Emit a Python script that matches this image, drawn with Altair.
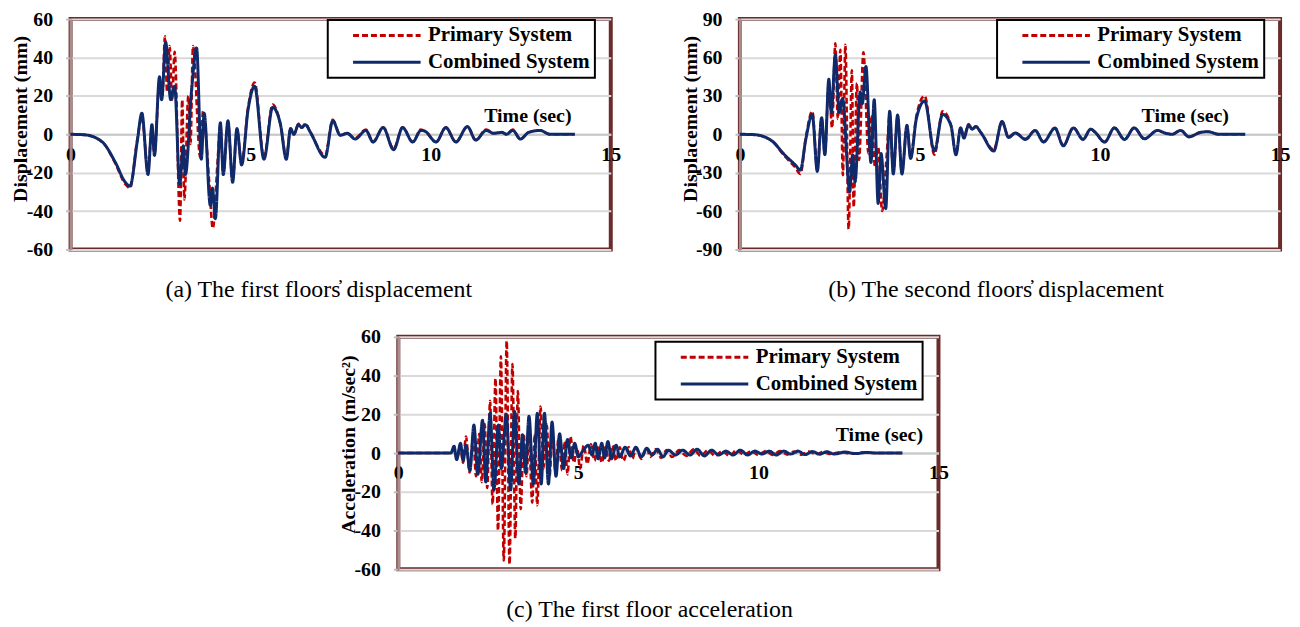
import altair as alt
import pandas as pd

FONT = "Liberation Serif"
MAROON = "#6B2B2B"
GRID = "#D9D9D9"
RED = "#C00000"
BLUE = "#0E2A6B"
SERIES = ["Primary System", "Combined System"]

# ---------------- (a) first floor displacement, mm : (time s, value) ----------------
a_primary = [(0, 0), (0.4, -0.3), (0.88, -4), (1.24, -15), (1.52, -26), (1.65, -28), (1.85, -3), (1.98, 9),
             (2.15, -19), (2.26, 4), (2.33, -10), (2.47, 28), (2.55, 20), (2.62, 51), (2.68, 22), (2.75, 46),
             (2.82, 18), (2.89, 43), (3.04, -45), (3.10, 18), (3.16, -34), (3.27, 20), (3.33, -5), (3.40, 46),
             (3.60, -12), (3.68, 12), (3.85, -25), (3.95, -49), (4.08, -15), (4.16, 5), (4.24, -20), (4.37, 6),
             (4.50, -24), (4.62, 2), (4.75, -15), (4.93, 14), (5.11, 27), (5.37, -12), (5.61, 15.5), (5.83, 5),
             (5.99, -12), (6.11, 3), (6.20, 0), (6.33, 5.5), (6.42, 3.5), (6.52, 5.5), (6.66, 1), (7.07, -11),
             (7.28, 7.5), (7.49, -0.5), (7.68, 0.5), (7.90, -2), (8.20, 2.5), (8.40, -4), (8.68, 3.5), (8.97, -7.5),
             (9.22, 3.5), (9.50, -4), (9.73, 2.5), (9.85, 1.5), (10.15, -4), (10.42, 3.5), (10.70, -4), (11.02, 4),
             (11.25, -3), (11.54, 2.5), (11.75, 0.5), (11.98, 1), (12.10, 0), (12.28, 2.5), (12.49, -2.5),
             (12.72, 1), (13.04, 2), (13.31, 0), (14.0, 0)]
a_combined = [(0, 0), (0.4, -0.3), (0.88, -4), (1.24, -14.5), (1.52, -25), (1.65, -27), (1.85, -4), (1.98, 11),
              (2.15, -21), (2.26, 5), (2.33, -11), (2.47, 30), (2.53, 18), (2.64, 48), (2.78, 18), (2.89, 25),
              (3.03, -26), (3.13, -6), (3.19, -21), (3.36, 23), (3.50, 45), (3.63, -13), (3.71, 11), (3.88, -37),
              (3.94, -28), (4.02, -44), (4.16, 6), (4.24, -21), (4.37, 7), (4.50, -25), (4.62, 3), (4.75, -16),
              (4.93, 13), (5.11, 25), (5.37, -13), (5.61, 14), (5.83, 5), (5.99, -13), (6.11, 3), (6.20, 0),
              (6.33, 5), (6.42, 3.5), (6.52, 5), (6.66, 1), (7.07, -12), (7.28, 7), (7.49, -0.5), (7.68, 0.5),
              (7.90, -2.5), (8.20, 2), (8.40, -4), (8.68, 3.5), (8.97, -8), (9.22, 3.5), (9.50, -4), (9.73, 2),
              (9.85, 1.5), (10.15, -4), (10.42, 3.5), (10.70, -4), (11.02, 4), (11.25, -3), (11.54, 2),
              (11.75, 0.5), (11.98, 1), (12.10, 0), (12.28, 2), (12.49, -2.5), (12.72, 1), (13.04, 2),
              (13.31, 0), (14.0, 0)]

# ---------------- (b) second floor displacement, mm ----------------
b_primary = [(0, 0), (0.4, -0.3), (0.88, -5), (1.24, -17), (1.54, -26), (1.68, -31), (1.83, -3), (2.01, 18),
             (2.15, -27), (2.27, 12), (2.36, -15), (2.47, 40), (2.56, 5), (2.65, 71), (2.72, 12), (2.79, 66),
             (2.86, -32), (2.93, 70), (3.02, -74), (3.11, 50), (3.16, -57), (3.25, 40), (3.31, -20), (3.43, 64),
             (3.57, -15), (3.66, 15), (3.75, -25), (3.84, -10), (3.95, -60), (4.08, -15), (4.16, 15), (4.26, -30),
             (4.38, 14), (4.50, -30), (4.64, 6), (4.74, -18), (4.90, 14), (5.13, 30), (5.40, -16), (5.63, 18),
             (5.86, 7), (6.00, -15), (6.13, 5), (6.22, -2), (6.35, 8), (6.45, 4), (6.55, 6), (6.70, 1),
             (7.05, -12), (7.28, 10), (7.46, -2), (7.65, 1), (7.93, -3.5), (8.20, 3), (8.43, -6), (8.75, 5),
             (8.98, -8.5), (9.26, 5), (9.53, -4), (9.74, 4), (9.85, 2), (10.13, -6), (10.40, 5), (10.68, -4),
             (10.95, 5), (11.23, -3.5), (11.60, 3), (11.80, 1), (12.0, 0), (12.24, 3), (12.47, -2),
             (12.79, 1.5), (13.0, 2), (13.3, 0), (14.03, 0)]
b_combined = [(0, 0), (0.4, -0.3), (0.88, -5), (1.24, -16), (1.54, -24), (1.68, -28), (1.83, -4), (2.01, 15.5),
              (2.15, -29), (2.27, 13), (2.36, -16), (2.47, 43), (2.54, 17), (2.65, 62), (2.76, 17), (2.85, 28),
              (3.05, -45), (3.13, -16), (3.20, -37), (3.34, 33), (3.40, 24), (3.50, 53), (3.64, -22), (3.73, 27),
              (3.84, -54), (3.92, -15), (4.05, -58), (4.16, 18), (4.26, -31), (4.38, 15), (4.50, -31), (4.64, 7),
              (4.74, -19), (4.90, 12), (5.13, 26), (5.40, -13), (5.63, 15.5), (5.86, 7), (6.00, -16), (6.13, 5),
              (6.22, -3), (6.35, 7), (6.45, 4), (6.55, 6), (6.70, 1), (7.05, -13), (7.28, 10), (7.46, -2.5),
              (7.65, 1), (7.93, -4), (8.20, 3), (8.43, -6), (8.75, 4.7), (8.98, -9), (9.26, 5), (9.53, -4),
              (9.74, 4), (9.85, 2), (10.13, -6), (10.40, 5), (10.68, -4), (10.95, 5), (11.23, -3.5), (11.60, 3),
              (11.80, 1), (12.0, 0), (12.24, 3), (12.47, -2), (12.79, 1.5), (13.0, 2), (13.3, 0), (14.03, 0)]

# ---------------- (c) first floor acceleration, m/sec^2 ----------------
c_primary = [(0, 0), (1.46, 0), (1.55, 2), (1.63, -3), (1.72, 4), (1.80, -5), (1.88, 8.5), (1.98, -10),
             (2.08, 8), (2.16, -12), (2.25, 10), (2.32, -15), (2.40, 15), (2.47, -18), (2.55, 27), (2.62, -26.5),
             (2.70, 38.5), (2.77, -40), (2.85, 50), (2.93, -55.5), (3.01, 58), (3.09, -57.5), (3.17, 46),
             (3.25, -44), (3.32, 32), (3.40, -29), (3.48, 10), (3.56, -12), (3.63, 8), (3.72, -25.6), (3.79, 10),
             (3.86, -27), (3.95, 24), (4.03, -8), (4.12, 15), (4.20, -12), (4.28, 10), (4.37, -10), (4.45, 8),
             (4.55, -9), (4.62, 6), (4.70, -11), (4.78, 8.6), (4.88, -5), (4.96, 3), (5.05, -8), (5.15, 4),
             (5.25, -5.6), (5.35, 4.5), (5.45, -4), (5.55, 4), (5.65, -5), (5.75, 3), (5.85, -4), (5.95, 4),
             (6.05, -4), (6.15, 3), (6.25, -4), (6.40, 3), (6.50, -3), (6.60, 2.5), (6.75, -3), (6.90, 2.5),
             (7.00, -2), (7.15, 2), (7.30, -2.5), (7.45, 1.5), (7.60, -2), (7.80, 1.5), (8.00, -1.5), (8.20, 2),
             (8.40, -1.5), (8.60, 1.5), (8.80, -1.5), (9.00, 1), (9.20, -1.5), (9.40, 1.5), (9.60, -1),
             (9.80, 1), (10.0, -1), (10.2, 1), (10.4, -1), (10.6, 1), (10.8, -0.8), (11.0, 0.8), (11.2, -0.8),
             (11.4, 0.8), (11.6, -0.6), (11.8, 0.6), (12.0, -0.5), (12.3, 0.5), (12.6, -0.4), (12.9, 0.3),
             (13.3, 0), (14.0, 0)]
c_combined = [(0, 0), (1.46, 0), (1.55, 3.5), (1.62, -3.4), (1.73, 5), (1.80, -4), (1.88, 4), (1.99, -9),
              (2.10, 14.5), (2.21, -11), (2.34, 17), (2.43, -15), (2.55, 20.5), (2.66, -19), (2.78, 14.5),
              (2.86, -8), (3.00, 20), (3.12, -19), (3.23, 21.5), (3.35, -16), (3.45, 9.5), (3.53, -10),
              (3.63, 19), (3.75, -16), (3.86, 20.5), (3.97, -16), (4.06, 20.5), (4.17, -16), (4.27, 16),
              (4.38, -12), (4.48, 10), (4.59, -8), (4.70, 7), (4.80, -2.5), (4.90, 5), (5.00, -2), (5.12, 1),
              (5.28, 4), (5.38, -1), (5.47, 5), (5.55, -3), (5.65, 5), (5.73, -2.5), (5.82, 6), (5.92, -3),
              (6.05, 4), (6.15, -2), (6.30, 3), (6.45, -1.5), (6.60, 3), (6.75, -2), (6.90, 2.5), (7.05, -1),
              (7.20, 2), (7.35, -2), (7.50, 1.5), (7.70, -1), (7.90, 1.5), (8.10, -1), (8.30, 2), (8.50, -1.5),
              (8.70, 1.5), (8.90, -1), (9.10, 1), (9.30, -1), (9.50, 1.5), (9.70, -1), (9.90, 1), (10.1, -0.5),
              (10.3, 1), (10.5, -1), (10.7, 1), (10.9, -0.5), (11.1, 1), (11.3, -0.8), (11.5, 0.8),
              (11.7, -0.6), (11.9, 0.7), (12.1, -0.5), (12.4, 0.5), (12.7, -0.3), (13.0, 0.3), (13.3, 0),
              (14.0, 0)]

x_ticks = [0, 5, 10, 15]

captions = ["(a) The first floors\u0313 displacement",
            "(b) The second floors\u0313 displacement",
            "(c) The first floor acceleration"]


def to_df(prim, comb):
    rows = [{"t": t, "v": v, "s": SERIES[0]} for t, v in prim]
    rows += [{"t": t, "v": v, "s": SERIES[1]} for t, v in comb]
    return pd.DataFrame(rows)


def panel(prim, comb, ymin, ymax, ystep, ytitle, ytitle_y, time_x, legend_y, caption, cap_dx, h):
    df = to_df(prim, comb)
    leg = alt.Legend(orient="none", legendX=259, legendY=legend_y, title=None,
                     symbolType="M-4,0H4", symbolSize=289, symbolStrokeWidth=3,
                     labelFont=FONT, labelFontSize=21, labelFontWeight="bold", labelColor="black",
                     labelLimit=400, labelExpr="datum.label + '\u00a0\u00a0\u00a0'",
                     strokeColor="black", fillColor="white", padding=5, symbolOffset=44,
                     labelOffset=31, rowPadding=5)
    color = alt.Color("s:N", scale=alt.Scale(domain=SERIES, range=[RED, BLUE]), legend=leg)
    dash = alt.StrokeDash("s:N", scale=alt.Scale(domain=SERIES, range=[[6, 3], [1, 0]]), legend=leg)
    x = alt.X("t:Q", scale=alt.Scale(domain=[0, 15], nice=False, zero=False),
              axis=alt.Axis(values=x_ticks, offset=-h / 2, title="Time (sec)", titleX=time_x, titleY=-9,
                            titleAlign="center", titleBaseline="bottom", ticks=False, grid=False,
                            labelFlush=False, labelOverlap=False, labelPadding=10,
                            domainColor="#C8C8C8", domainWidth=2))
    y = alt.Y("v:Q", scale=alt.Scale(domain=[ymin, ymax], nice=False, zero=False),
              axis=alt.Axis(values=list(range(ymin, ymax + 1, ystep)), title=ytitle, titleX=-50,
                            titleY=ytitle_y, titleBaseline="middle", titleAlign="center",
                            grid=True, gridColor=GRID, gridWidth=2, tickColor="#BFBFBF", tickSize=5,
                            tickWidth=2, labelPadding=13, labelExpr="'' + datum.value",
                            domainColor="#A98C8C", domainWidth=3))
    base = alt.Chart(df)
    lp = base.transform_filter(alt.datum.s == SERIES[0]).mark_line(
        interpolate="monotone", strokeWidth=2.6).encode(x=x, y=y, color=color, strokeDash=dash)
    lc = base.transform_filter(alt.datum.s == SERIES[1]).mark_line(
        interpolate="monotone", strokeWidth=3).encode(x=x, y=y, color=color, strokeDash=dash)
    return alt.layer(lp, lc).properties(
        width=544, height=h,
        view=alt.ViewBackground(stroke=MAROON, strokeWidth=4),
        title=alt.TitleParams(caption, orient="bottom", anchor="middle", frame="group", dx=cap_dx,
                              offset=19, baseline="top", fontSize=24, font=FONT, fontWeight="normal",
                              color="black"))


pa = panel(a_primary, a_combined, -60, 60, 20, "Displacement (mm)", 100, 460, 1, captions[0], -22, 232)
pb = panel(b_primary, b_combined, -90, 90, 30, "Displacement (mm)", 100, 448, 1, captions[1], -14, 232)
pc = panel(c_primary, c_combined, -60, 60, 20, "Acceleration (m/sec\u00b2)", 108, 484, 5, captions[2], -19, 234)

# invisible spacer that shifts panel (c) to its place in the bottom row
spacer = alt.Chart(pd.DataFrame({"z": [0]})).mark_point(opacity=0).encode(
    x=alt.value(0), y=alt.value(0)
).properties(width=267, height=1, view=alt.ViewBackground(strokeOpacity=0, strokeWidth=0))

top_row = alt.hconcat(pa, pb, spacing=55).resolve_scale(color="independent", strokeDash="independent")
bottom_row = alt.hconcat(spacer, pc, spacing=0).resolve_scale(color="independent", strokeDash="independent")

chart = alt.vconcat(top_row, bottom_row, spacing=21).resolve_scale(
    color="independent", strokeDash="independent"
).configure_view(
    strokeWidth=0
).configure_legend(strokeWidth=2).configure_axis(
    labelFont=FONT, titleFont=FONT, labelFontSize=20, titleFontSize=20,
    labelFontWeight="bold", titleFontWeight="bold", labelColor="black", titleColor="black"
).properties(padding={"left": 0, "top": -3, "right": 0, "bottom": 0})

chart.save("out.html", embed_options={"renderer": "svg", "actions": False})
